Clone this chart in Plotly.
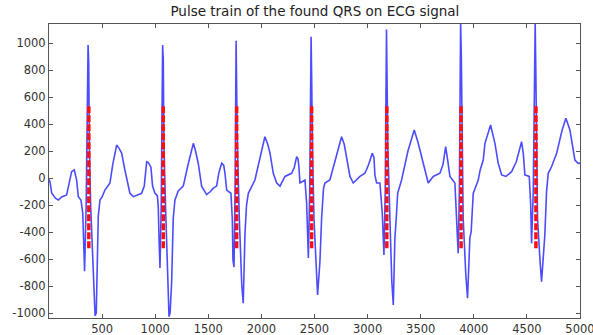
import plotly.graph_objects as go

# ECG signal vertices (sample index, amplitude)
ecg_x = [0, 9, 25, 60, 88, 119, 166, 188, 213, 238, 260, 276, 301,
         318, 325, 335, 350, 368, 374, 380, 392, 414, 434, 445, 452, 464, 480,
         500, 527, 574, 600, 637, 660, 684, 715, 762, 794, 840, 872, 897, 920, 935, 960, 975, 998, 1020,
         1029, 1037, 1045, 1057, 1070, 1076, 1082, 1097, 1115, 1130, 1140, 1155, 1170, 1186,
         1217, 1264, 1310, 1359, 1380, 1406, 1437, 1484, 1520, 1547, 1578, 1600, 1626, 1645, 1657, 1673, 1713,
         1726, 1732, 1742, 1752, 1762, 1768, 1774, 1792, 1815, 1829, 1845, 1860, 1877,
         1939, 1990, 2033, 2060, 2081, 2112, 2144, 2175, 2222, 2285, 2310, 2332, 2345, 2353, 2363, 2410,
         2426, 2434, 2442, 2455, 2468, 2474, 2480, 2495, 2515, 2529, 2551, 2567, 2585,
         2598, 2645, 2700, 2755, 2780, 2802, 2834, 2865, 2928, 2975, 3010, 3044, 3060, 3069, 3085, 3116,
         3138, 3154, 3166, 3178, 3184, 3190, 3210, 3228, 3242, 3257, 3270, 3283,
         3320, 3380, 3439, 3477, 3524, 3571, 3618, 3681, 3710, 3735, 3754, 3775, 3822,
         3838, 3853, 3864, 3876, 3882, 3888, 3900, 3925, 3941, 3963, 3975, 3995,
         4042, 4060, 4089, 4105, 4158, 4199, 4230, 4262, 4303, 4356, 4400, 4450, 4466, 4481, 4522,
         4535, 4544, 4560, 4578, 4584, 4590, 4600, 4625, 4638, 4669, 4685, 4701,
         4733, 4780, 4830, 4867, 4905, 4952, 4983, 5000]
ecg_y = [-10, -27, -110, -150, -163, -140, -126, -40, 47, 60, -15, -138, -163,
         -260, -509, -690, -200, 985, 850, 240, -200, -680, -1020, -1000, -770, -280, -163,
         -140, -89, -37, 100, 244, 220, 185, 59, -113, -138, -125, -113, -60, 121, 115, 80, -60, -113, -130,
         -212, -472, -667, -200, 985, 880, 250, -200, -680, -1027, -1000, -770, -296, -163,
         -96, -60, 100, 257, 200, 106, -60, -123, -100, -75, -60, 40, 109, 95, 35, -89, -113,
         -300, -607, -660, -100, 1017, 590, 250, -300, -793, -928, -420, -200, -113,
         -15, 150, 306, 250, 185, 35, -37, -60, 12, 35, 80, 158, 140, 85, -37, -15,
         -187, -385, -593, -100, 1047, 700, 250, -300, -630, -867, -620, -296, -76,
         -37, -15, 150, 306, 250, 158, 12, -37, 12, 35, 100, 183, 150, 20, -37, -37,
         -259, -570, -100, 1100, 825, 250, -300, -767, -941, -444, -296, -113,
         -15, 200, 356, 257, 109, -37, 12, 35, 100, 232, 133, 12, -37,
         -259, -558, -100, 1150, 925, 250, -300, -720, -891, -444, -398, -113,
         -15, 60, 133, 257, 393, 257, 109, 23, 12, 47, 120, 269, 183, 23, 12,
         -187, -484, -100, 1150, 800, 250, -300, -630, -768, -420, -100, 35,
         85, 183, 350, 442, 356, 133, 109, 110]

# detected QRS pulse train
pulse_positions = [375, 1076, 1767, 2473, 3181, 3880, 4585]
pulse_low = -520
pulse_high = 540

x_ticks = [500, 1000, 1500, 2000, 2500, 3000, 3500, 4000, 4500, 5000]
y_ticks = [-1000, -800, -600, -400, -200, 0, 200, 400, 600, 800, 1000]

px, py = [], []
for p in pulse_positions:
    px += [p, p, None]
    py += [pulse_low, pulse_high, None]

fig = go.Figure()
fig.add_trace(go.Scatter(x=ecg_x, y=ecg_y, mode="lines",
                         line=dict(color="#4c4cff", width=1.6),
                         hoverinfo="skip", showlegend=False))
fig.add_trace(go.Scatter(x=px, y=py, mode="lines",
                         line=dict(color="#ff1010", width=3.5, dash="7px,2px"),
                         hoverinfo="skip", showlegend=False))

font_family = "DejaVu Sans, Arial"
axis_common = dict(showline=True, linecolor="#555555", linewidth=1, mirror="ticks",
                   ticks="inside", ticklen=4, tickcolor="#555555", showgrid=False,
                   zeroline=False, automargin=False, ticklabeloverflow="allow",
                   tickfont=dict(family=font_family, size=11.5, color="#333333"))

fig.update_layout(
    width=593, height=335,
    margin=dict(l=49, r=13, t=24, b=17),
    paper_bgcolor="white", plot_bgcolor="white",
    hovermode=False,
    title=dict(text="Pulse train of the found QRS on ECG signal",
               x=0.531, xanchor="center", y=0.965, yanchor="middle", automargin=False,
               font=dict(family=font_family, size=13.5, color="#222222")),
    xaxis=dict(range=[0, 5000], tickvals=x_ticks, ticktext=[str(v) for v in x_ticks], **axis_common),
    yaxis=dict(range=[-1037, 1141], tickvals=y_ticks, ticktext=[str(v) for v in y_ticks], **axis_common),
)

# remove the default 8px page margin so the figure fills the window exactly
fig.write_html("out.html", config={"displayModeBar": False, "staticPlot": True},
               post_script="document.body.style.margin='0px';document.body.style.overflow='hidden';")
